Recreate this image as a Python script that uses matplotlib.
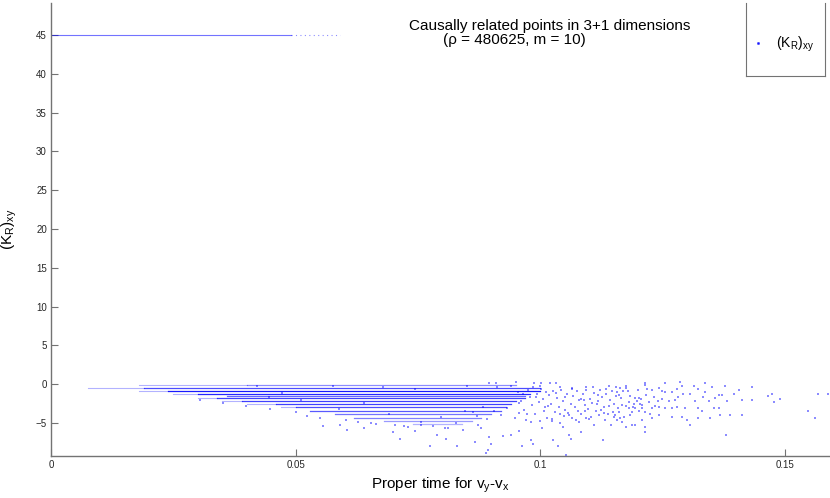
import matplotlib
matplotlib.use("Agg")
import matplotlib.pyplot as plt
from matplotlib.lines import Line2D

plt.rcParams['font.family'] = ['Liberation Sans', 'DejaVu Sans']

# upper line at (K_R)_xy = 45
top_level = 45
top_solid = [0.0, 0.049]
top_dotted = [0.049, 0.059]

# faint lead-in part of each band (level, start, end)
lead_y = [-0.1, -0.45, -0.85, -1.3, -1.8, -2.2, -2.6, -3.0]
lead_x0 = [0.018, 0.0075, 0.018, 0.025, 0.030, 0.035, 0.040, 0.047]
lead_x1 = [0.040, 0.019, 0.024, 0.030, 0.034, 0.039, 0.046, 0.050]

# dense bands of points (level, start, end, strength)
band_y = [-0.1, -0.45, -0.85, -1.3, -1.55, -1.8, -2.2, -2.6, -3.0, -3.45, -3.85, -4.3, -4.7, -5.1]
band_x0 = [0.040, 0.019, 0.024, 0.030, 0.036, 0.034, 0.039, 0.046, 0.050, 0.053, 0.058, 0.062, 0.068, 0.074]
band_x1 = [0.095, 0.100, 0.100, 0.098, 0.097, 0.097, 0.095, 0.094, 0.093, 0.092, 0.090, 0.088, 0.086, 0.084]
band_alpha = [0.45, 0.7, 0.9, 0.85, 0.6, 0.75, 0.75, 0.75, 0.7, 0.65, 0.55, 0.5, 0.4, 0.3]

# loose points between the bands
speckle_x = [0.0305, 0.0352, 0.0398, 0.0421, 0.0447, 0.0473, 0.0502, 0.0524, 0.0551, 0.0577,
             0.0603, 0.0628, 0.0655, 0.0679, 0.0703, 0.0731, 0.0756, 0.0782, 0.0806, 0.0829,
             0.0851, 0.0874, 0.0445, 0.0512, 0.0588, 0.0640, 0.0692, 0.0745, 0.0798, 0.0846]
speckle_y = [-2.0, -2.4, -2.8, -0.2, -3.2, -1.1, -3.6, -4.1, -4.4, -0.2,
             -4.6, -4.9, -5.0, -0.3, -5.3, -5.5, -4.9, -5.4, -5.6, -5.0,
             -0.2, -5.3, -1.6, -2.0, -3.2, -2.4, -3.9, -0.6, -4.2, -3.4]

# scattered points of the cloud
cloud_x = [
    0.0606, 0.0665, 0.0700, 0.0713, 0.0745, 0.0776, 0.0790, 0.0808, 0.0830, 0.0843, 0.0868, 0.0889,
    0.0556, 0.0590, 0.0640, 0.0722, 0.0757, 0.0812,
    0.0879, 0.0896, 0.0900, 0.0893, 0.0924, 0.0940, 0.0958, 0.0964, 0.0981, 0.0985, 0.1005, 0.1026,
    0.1036, 0.1040, 0.1046, 0.1053, 0.1060, 0.1063, 0.1080, 0.1083, 0.1094, 0.1110, 0.1120, 0.1128,
    0.1145, 0.1151, 0.1158,
    0.0896, 0.0910, 0.0988, 0.1002, 0.1032, 0.1066, 0.1094, 0.1134, 0.1155, 0.0950, 0.1020,
    0.0955, 0.0962, 0.0968, 0.0975, 0.0979, 0.0983, 0.0990, 0.0994, 0.0998, 0.1003, 0.1007, 0.1011,
    0.1015, 0.1019, 0.1023, 0.1027, 0.1031, 0.1035, 0.1039, 0.1043, 0.1047, 0.1051, 0.1055, 0.1059,
    0.1063, 0.1067, 0.1071, 0.1075, 0.1079, 0.1083, 0.1087, 0.1091, 0.1095, 0.1099, 0.1103, 0.1107,
    0.1111, 0.1115, 0.1119, 0.1123, 0.1127, 0.1131, 0.1135, 0.1139, 0.1143, 0.1147, 0.1151, 0.1155,
    0.1159,
    0.0958, 0.0972, 0.0986, 0.1000, 0.1012, 0.1025, 0.1040, 0.1052, 0.1066, 0.1078, 0.1090, 0.1104,
    0.1118, 0.1130, 0.1142, 0.1154,
    0.1164, 0.1175, 0.1169, 0.1180, 0.1162, 0.1185, 0.1195, 0.1202, 0.1207, 0.1214, 0.1215, 0.1219,
    0.1229, 0.1243, 0.1255, 0.1256, 0.1270, 0.1287, 0.1290, 0.1280, 0.1293, 0.1307, 0.1314, 0.1324,
    0.1338, 0.1338, 0.1351, 0.1358, 0.1365, 0.1372, 0.1379, 0.1382, 0.1396, 0.1406, 0.1414, 0.1433,
    0.1434, 0.1467, 0.1474, 0.1479, 0.1491, 0.1569, 0.1588, 0.1549, 0.1562, 0.1380,
    0.1168, 0.1175, 0.1181, 0.1188, 0.1195, 0.1202, 0.1209, 0.1215, 0.1229, 0.1243, 0.1256, 0.1270,
    0.1280, 0.1297, 0.1324, 0.1331, 0.1355, 0.1365,
    0.1164, 0.1171, 0.1188, 0.1195, 0.1209, 0.1215, 0.1215, 0.1229, 0.1243, 0.1270, 0.1290, 0.1300,
    0.1307, 0.1324, 0.1348, 0.1368, 0.1389, 0.1413, 0.1161, 0.1168, 0.1175,
    0.1181, 0.1192, 0.1199, 0.1205, 0.1222, 0.1236, 0.1250, 0.1263, 0.1277, 0.1283, 0.1317, 0.1334,
    0.1345,
    0.0862, 0.0871, 0.0884, 0.0892, 0.0905, 0.0913, 0.0921, 0.0933, 0.0941, 0.0949, 0.0957, 0.0966,
    0.0974, 0.0982, 0.0991, 0.0999, 0.1008, 0.1016, 0.1024, 0.1033, 0.1041, 0.1049, 0.1058, 0.1066,
    0.1074, 0.1083, 0.1091, 0.1100, 0.1108, 0.1116, 0.1125, 0.1133, 0.1141, 0.1150, 0.1158, 0.1166,
    0.1175, 0.1183, 0.1191, 0.1200, 0.1208, 0.1216, 0.1225, 0.1233, 0.1241, 0.1250,
]
cloud_y = [
    -5.9, -5.1, -6.2, -7.0, -6.0, -7.9, -6.6, -7.1, -8.0, -5.9, -7.5, -8.8,
    -5.4, -5.2, -5.6, -5.4, -5.2, -5.6,
    -5.7, -6.8, -7.7, -8.5, -6.7, -6.6, -6.0, -8.0, -7.2, -7.7, -5.7, -7.2,
    -7.9, -5.0, -5.5, -9.1, -6.6, -7.0, -4.9, -6.1, -4.4, -5.3, -4.0, -7.2,
    -5.3, -4.2, -4.6,
    0.1, 0.2, 0.1, 0.1, 0.1, -0.6, -0.35, -0.6, -0.35, 0.3, 0.2,
    -1.0, -2.1, -3.3, -0.8, -1.6, -2.7, -3.9, -1.2, -2.3, -0.6, -1.9, -3.0,
    -4.3, -1.4, -2.6, -0.9, -3.6, -1.8, -2.9, -0.7, -2.1, -3.3, -1.2, -4.0,
    -2.5, -1.5, -3.0, -0.9, -2.0, -3.8, -1.3, -2.7, -0.8, -3.2, -1.9, -2.4,
    -1.1, -3.5, -2.2, -0.7, -1.6, -2.9, -1.3, -3.9, -2.0, -0.9, -2.6, -1.5,
    -3.1,
    -3.7, -4.6, -0.4, -4.8, -1.0, -4.5, -3.9, -1.6, -4.4, -3.5, -2.0, -4.2,
    -1.4, -3.7, -2.8, -4.0,
    -0.5, -0.5, -0.9, -0.9, -1.4, -1.5, -1.8, -1.8, -1.9, 0.2, -0.05, -0.6,
    -0.8, -0.5, 0.1, -1.0, -1.0, 0.3, -0.2, -0.6, -1.2, -1.2, -0.2, -0.6,
    0.1, -1.0, -0.4, -1.8, -1.4, -1.4, -0.2, -2.1, -1.2, -0.8, -2.0, -0.4,
    -2.0, -1.5, -1.2, -2.3, -1.9, -1.2, -1.3, -3.5, -4.3, -6.6,
    -2.7, -2.8, -3.1, -3.6, -3.1, -3.4, -3.1, -3.6, -3.1, -2.9, -3.1, -3.1,
    -2.9, -3.1, -3.1, -3.4, -3.1, -3.1,
    -4.4, -4.2, -5.3, -5.2, -4.6, -5.5, -6.2, -4.4, -4.0, -4.2, -4.2, -4.6,
    -5.2, -4.3, -4.4, -4.0, -4.0, -4.0, -3.6, -4.9, -5.5,
    -2.3, -2.5, -2.1, -2.5, -2.3, -2.8, -1.9, -2.1, -2.0, -1.6, -2.1, -1.6,
    -2.1,
    -3.6, -4.1, -2.9, -4.5, -3.4, -0.3, -4.0, -3.1, -0.2, -4.3, -2.4, -1.3,
    -3.9, -4.9, -1.7, -0.2, -3.5, -2.8, -4.7, -1.1, -0.3, -4.1, -3.7, -0.5,
    -4.6, -1.9, -3.4, -4.5, -0.4, -2.6, -3.3, -4.6, -0.2, -3.6, -1.0, -1.8,
    -0.2, -4.0, -2.9, -0.7, -2.7, -1.4, -3.9, -1.7, -2.2, -0.9,
]

x_ticks = [0, 0.05, 0.1, 0.15]
x_tick_labels = ['0', '0.05', '0.1', '0.15']
y_ticks = [-5, 0, 5, 10, 15, 20, 25, 30, 35, 40, 45]

fig = plt.figure(figsize=(8.3, 4.98), dpi=100)
ax = fig.add_axes([51 / 830, 42 / 498, 779 / 830, 453 / 498])

pt_color = (0.0, 0.0, 1.0)

# line at 45
ax.plot(top_solid, [top_level, top_level], color=pt_color, alpha=0.55, lw=0.8)
ax.plot(top_dotted, [top_level, top_level], color=pt_color, alpha=0.45, lw=0.8,
        dashes=(1, 3))

# faint leading parts of the bands
for y, x0, x1 in zip(lead_y, lead_x0, lead_x1):
    ax.plot([x0, x1], [y, y], color=pt_color, alpha=0.3, lw=0.8)

# dense bands
for y, x0, x1, a in zip(band_y, band_x0, band_x1, band_alpha):
    ax.plot([x0, x1], [y, y], color=pt_color, alpha=a, lw=0.9)

ax.scatter(speckle_x, speckle_y, s=1.0, marker='s', color=pt_color, alpha=0.45, linewidths=0)
ax.scatter(cloud_x, cloud_y, s=1.0, marker='s', color=pt_color, alpha=0.45, linewidths=0)

ax.set_xlim(0, 0.1593)
ax.set_ylim(-9.25, 49.12)
ax.set_xticks(x_ticks)
ax.set_xticklabels(x_tick_labels)
ax.set_yticks(y_ticks)

for side in ['top', 'right']:
    ax.spines[side].set_visible(False)
for side in ['left', 'bottom']:
    ax.spines[side].set_color('0.45')
    ax.spines[side].set_linewidth(1.0)
ax.tick_params(direction='in', length=5, width=0.8, color='0.45',
               labelsize=7, labelcolor='0.15', pad=3)

ax.set_xlabel(r'Proper time for $\mathregular{v_y}$-$\mathregular{v_x}$', fontsize=11, labelpad=4)
ax.set_ylabel(r'$\mathregular{(K_R)_{xy}}$', fontsize=11, labelpad=12)

# title text
fig.text(409 / 830, 1 - 30 / 498, 'Causally related points in 3+1 dimensions',
         fontsize=11, ha='left', va='baseline')
fig.text(443 / 830, 1 - 44 / 498, '(\u03c1 = 480625, m = 10)',
         fontsize=11, ha='left', va='baseline')

# legend box
W, H = 830, 498
for xs, ys in [([746, 746], [3, 76]), ([746, 825], [76, 76]), ([825, 825], [3, 76])]:
    fig.add_artist(Line2D([x / W for x in xs], [1 - y / H for y in ys],
                          color='0.45', lw=0.8))
fig.add_artist(Line2D([758 / W], [1 - 43 / H], marker='s', markersize=1,
                      color=pt_color, alpha=0.7, lw=0))
fig.text(776 / W, 1 - 48 / H, r'$\mathregular{(K_R)_{xy}}$', fontsize=10,
         ha='left', va='baseline')

fig.savefig('out.png', dpi=100)
